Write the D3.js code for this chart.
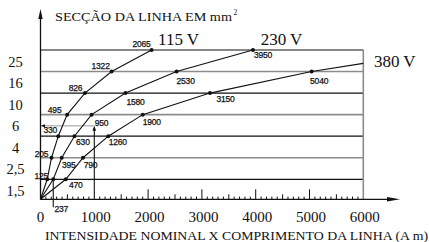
<!DOCTYPE html>
<html><head><meta charset="utf-8">
<script src="https://cdn.jsdelivr.net/npm/d3@7"></script>
<style>html,body{margin:0;padding:0;background:#fff;}svg{display:block;}</style>
</head><body>
<svg id="c" width="429" height="242"></svg>
<script>
// ---- data ----
const sections = ["1,5", "2,5", "4", "6", "10", "16", "25"];
const series115 = [125, 205, 330, 495, 826, 1322, 2065];
const series230 = [237, 395, 630, 950, 1580, 2530, 3950];
const series380 = [470, 790, 1260, 1900, 3150, 5040];
const tail380 = [6000, 5.38];          // 380 V line continues to 6000 (between 16 and 25)
const xTickValues = [0, 1000, 2000, 3000, 4000, 5000, 6000];
const seriesNames = ["115 V", "230 V", "380 V"];
const titleY = "SECÇÃO DA LINHA EM mm";
const titleX = "INTENSIDADE NOMINAL X COMPRIMENTO DA LINHA (A m)";
const example = [1000, 2.48];          // 1000 A m example arrow level

// ---- layout ----
const svg = d3.select("#c");
const x = d3.scaleLinear().domain([0, 6000]).range([40.5, 363.3]);
const y = d3.scaleLinear().domain([0, 6]).range([179.3, 50]);
const y0 = 199.3;
const serif = "'Liberation Serif','Times New Roman',serif";
const sans = "'Liberation Sans',Arial,sans-serif";

// grid lines
sections.forEach((s, i) => {
  svg.append("line").attr("x1", x(0)).attr("x2", x(6000))
    .attr("y1", y(i)).attr("y2", y(i))
    .attr("stroke", i % 2 === 0 ? "#111" : "#8c8c8c")
    .attr("stroke-width", i % 2 === 0 ? 1.2 : 1.6);
  svg.append("text").attr("x", 15.5).attr("y", y(i) + 16.5)
    .attr("text-anchor", "middle").attr("font-family", serif)
    .attr("font-size", 14.5).attr("fill", "#111").text(s);
});
// right border
svg.append("line").attr("x1", x(6000)).attr("x2", x(6000))
  .attr("y1", y(6)).attr("y2", y0).attr("stroke", "#8c8c8c").attr("stroke-width", 1.6);

// example lines (1000 A m)
svg.append("line").attr("x1", x(0)).attr("x2", x(example[0]))
  .attr("y1", y(example[1])).attr("y2", y(example[1]))
  .attr("stroke", "#999").attr("stroke-width", 1);
svg.append("line").attr("x1", x(example[0])).attr("x2", x(example[0]))
  .attr("y1", y0).attr("y2", y(example[1]) + 2)
  .attr("stroke", "#111").attr("stroke-width", 1.1);
svg.append("path").attr("d", `M${x(example[0])},${y(example[1])} l-1.8,5 l3.6,0 Z`).attr("fill", "#111");
svg.append("path").attr("d", `M${x(0) + 0.5},${y(example[1])} l4,-1.6 l0,3.2 Z`).attr("fill", "#111");

// 237 marker line
svg.append("line").attr("x1", x(series230[0])).attr("x2", x(series230[0]))
  .attr("y1", y(0)).attr("y2", y0 + 8).attr("stroke", "#111").attr("stroke-width", 1.1);

// x ticks
d3.range(100, 6000, 100).forEach(v => {
  if (v === 1000) return;
  const h = v % 1000 === 0 ? 10 : (v % 500 === 0 ? 5 : 2.7);
  svg.append("line").attr("x1", x(v)).attr("x2", x(v))
    .attr("y1", y0).attr("y2", y0 - h).attr("stroke", "#111").attr("stroke-width", 1);
});
xTickValues.forEach(v => {
  svg.append("text").attr("x", x(v) + (v === 0 ? 0 : 1.5)).attr("y", 221.5)
    .attr("text-anchor", "middle").attr("font-family", serif)
    .attr("font-size", 15).attr("fill", "#111").text(v);
});

// axes
svg.append("line").attr("x1", x(0)).attr("x2", 390).attr("y1", y0).attr("y2", y0)
  .attr("stroke", "#111").attr("stroke-width", 1.3);
svg.append("path").attr("d", `M400,${y0} l-13,-2.2 l0,4.4 Z`).attr("fill", "#111");
svg.append("line").attr("x1", x(0)).attr("x2", x(0)).attr("y1", y0).attr("y2", 16)
  .attr("stroke", "#111").attr("stroke-width", 1.3);
svg.append("path").attr("d", `M${x(0)},9 l-2.2,10 l4.4,0 Z`).attr("fill", "#111");

// curves
const line = d3.line().x(d => d[0]).y(d => d[1]);
function curve(vals, tail) {
  const pts = [[x(0), y0]].concat(vals.map((v, i) => [x(v), y(i)]));
  if (tail) pts.push([x(tail[0]), y(tail[1])]);
  svg.append("path").attr("d", line(pts)).attr("fill", "none")
    .attr("stroke", "#111").attr("stroke-width", 1.1);
  vals.forEach((v, i) => {
    svg.append("circle").attr("cx", x(v)).attr("cy", y(i)).attr("r", 2).attr("fill", "#111");
  });
}
curve(series115);
curve(series230);
curve(series380, tail380);

// point labels (offsets relative to point)
const off115 = [[-6, 0], [-10, -1], [-8, -3], [-12.5, -1.5], [-9.5, -2], [-11, -3], [-10, -3]];
const off230 = [[8, 33], [7, 10.5], [8.5, 9], [10, 11], [10, 12], [9, 12], [10, 8]];
const off380 = [[10, 9], [7.5, 10.5], [9.5, 9], [9, 10.5], [15.5, 9], [7.5, 12]];
function labels(vals, offs) {
  vals.forEach((v, i) => {
    svg.append("text").attr("x", x(v) + offs[i][0]).attr("y", y(i) + offs[i][1])
      .attr("text-anchor", "middle").attr("font-family", sans)
      .attr("font-size", 8.5).attr("letter-spacing", -0.2).attr("fill", "#111")
      .attr("stroke", "#111").attr("stroke-width", 0.25).text(v);
  });
}
labels(series115, off115);
labels(series230, off230);
labels(series380, off380);

// series names
const namePos = [[series115[6], 6, 27, -5], [series230[6], 6, 28.5, -5], [tail380[0], tail380[1], 31.5, 3.5]];
seriesNames.forEach((n, i) => {
  const p = namePos[i];
  svg.append("text").attr("x", x(p[0]) + p[2]).attr("y", y(p[1]) + p[3])
    .attr("text-anchor", "middle").attr("font-family", serif)
    .attr("font-size", 17).attr("fill", "#111").text(n);
});

// titles
svg.append("text").attr("x", 55).attr("y", 20.5).attr("font-family", serif)
  .attr("font-size", 13).attr("textLength", 177).attr("lengthAdjust", "spacingAndGlyphs")
  .attr("fill", "#111").text(titleY);
svg.append("text").attr("x", 233.5).attr("y", 14.5).attr("font-family", serif)
  .attr("font-size", 7.5).attr("fill", "#111").text("2");
svg.append("text").attr("x", 45).attr("y", 239.5).attr("font-family", serif)
  .attr("font-size", 12.5).attr("textLength", 383).attr("lengthAdjust", "spacingAndGlyphs")
  .attr("fill", "#111").text(titleX);
</script>
</body></html>
